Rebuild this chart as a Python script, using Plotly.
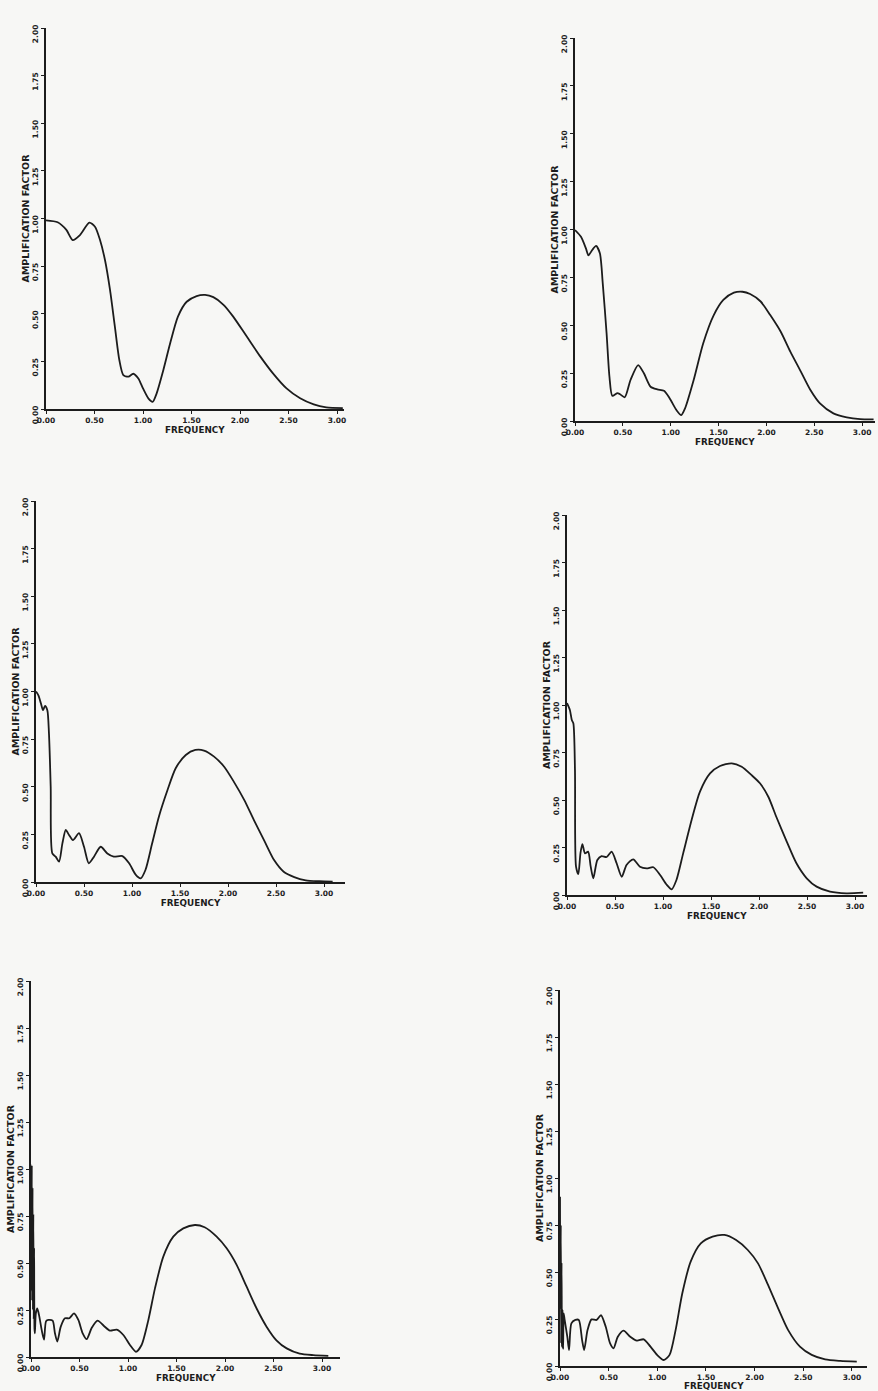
import plotly.graph_objects as go

W, H = 878, 1391

# ---------------- data ----------------
x_ticks = [0.0, 0.5, 1.0, 1.5, 2.0, 2.5, 3.0]
x_ticktext = ["0.00", "0.50", "1.00", "1.50", "2.00", "2.50", "3.00"]
y_ticks = [0.0, 0.25, 0.5, 0.75, 1.0, 1.25, 1.5, 1.75, 2.0]
y_ticktext = ["0.00", "0.25", "0.50", "0.75", "1.00", "1.25", "1.50", "1.75", "2.00"]

freq_1 = [0.00, 0.12, 0.21, 0.275, 0.35, 0.447, 0.505, 0.557, 0.608, 0.66, 0.71, 0.756,
          0.797, 0.85, 0.90, 0.952, 1.00, 1.055, 1.10, 1.14, 1.21, 1.28, 1.36, 1.45, 1.553,
          1.64, 1.725, 1.83, 1.93, 2.07, 2.21, 2.34, 2.48, 2.62, 2.76, 2.89, 3.06]
amp_1 = [0.99, 0.98, 0.94, 0.887, 0.913, 0.978, 0.957, 0.887, 0.782, 0.625, 0.432, 0.257,
         0.178, 0.17, 0.185, 0.16, 0.108, 0.056, 0.038, 0.081, 0.205, 0.345, 0.485, 0.563, 0.593,
         0.599, 0.587, 0.547, 0.485, 0.38, 0.275, 0.187, 0.108, 0.056, 0.024, 0.009, 0.005]

freq_2 = [0.00, 0.0625, 0.115, 0.14, 0.18, 0.22, 0.26, 0.29, 0.33, 0.36, 0.39, 0.44, 0.47,
          0.52, 0.58, 0.66, 0.72, 0.79, 0.86, 0.93, 0.99, 1.06, 1.11, 1.15, 1.24, 1.34, 1.45,
          1.55, 1.66, 1.75, 1.83, 1.94, 2.04, 2.15, 2.25, 2.36, 2.46, 2.56, 2.70, 2.84, 2.98, 3.12]
amp_2 = [0.997, 0.962, 0.90, 0.865, 0.893, 0.914, 0.876, 0.719, 0.458, 0.231, 0.131, 0.145, 0.14,
         0.124, 0.214, 0.292, 0.249, 0.179, 0.165, 0.158, 0.118, 0.057, 0.031, 0.066, 0.214, 0.406, 0.553,
         0.632, 0.67, 0.675, 0.663, 0.624, 0.553, 0.466, 0.362, 0.258, 0.162, 0.092, 0.04, 0.019, 0.01, 0.009]

freq_3 = [0.00, 0.025, 0.05, 0.073, 0.094, 0.118, 0.135, 0.153, 0.17, 0.205, 0.24, 0.275, 0.31,
          0.344, 0.385, 0.448, 0.50, 0.55, 0.604, 0.674, 0.743, 0.81, 0.90, 0.97, 1.04, 1.09, 1.14,
          1.21, 1.28, 1.37, 1.455, 1.56, 1.66, 1.75, 1.855, 1.96, 2.06, 2.17, 2.27, 2.375, 2.48,
          2.58, 2.69, 2.81, 2.95, 3.09]
amp_3 = [1.00, 0.98, 0.94, 0.902, 0.924, 0.902, 0.78, 0.50, 0.15, 0.133, 0.107, 0.203, 0.273,
         0.247, 0.22, 0.256, 0.185, 0.098, 0.133, 0.185, 0.15, 0.133, 0.136, 0.098, 0.037, 0.019, 0.063,
         0.203, 0.343, 0.483, 0.597, 0.667, 0.693, 0.69, 0.658, 0.605, 0.527, 0.43, 0.325, 0.22, 0.115,
         0.054, 0.026, 0.009, 0.004, 0.002]

freq_4 = [0.00, 0.03, 0.05, 0.066, 0.083, 0.094, 0.118, 0.14, 0.16, 0.188, 0.22, 0.247, 0.274,
          0.316, 0.36, 0.413, 0.465, 0.517, 0.57, 0.62, 0.69, 0.76, 0.83, 0.90, 0.97, 1.04, 1.09,
          1.14, 1.21, 1.298, 1.385, 1.49, 1.594, 1.715, 1.82, 1.92, 2.01, 2.097, 2.18, 2.29, 2.39,
          2.497, 2.60, 2.74, 2.91, 3.085]
amp_4 = [1.01, 0.974, 0.921, 0.904, 0.658, 0.149, 0.11, 0.219, 0.268, 0.219, 0.228, 0.149, 0.088,
         0.184, 0.205, 0.20, 0.228, 0.167, 0.096, 0.158, 0.188, 0.149, 0.14, 0.146, 0.105, 0.053, 0.03,
         0.079, 0.219, 0.395, 0.544, 0.64, 0.679, 0.693, 0.675, 0.632, 0.588, 0.517, 0.412, 0.28, 0.167,
         0.088, 0.044, 0.018, 0.009, 0.012]

freq_5 = [0.000, 0.004, 0.008, 0.012, 0.016, 0.020, 0.024, 0.028, 0.032, 0.036, 0.040, 0.050,
          0.065, 0.086, 0.11, 0.134, 0.155, 0.18, 0.223, 0.247, 0.271, 0.306, 0.35, 0.395, 0.443,
          0.488, 0.533, 0.574, 0.625, 0.687, 0.752, 0.814, 0.883, 0.952, 1.02, 1.082, 1.14, 1.21,
          1.278, 1.364, 1.467, 1.57, 1.69, 1.79, 1.914, 2.017, 2.12, 2.223, 2.326, 2.43, 2.53,
          2.636, 2.77, 2.91, 3.065]
amp_5 = [1.00, 0.35, 1.02, 0.30, 0.90, 0.25, 0.76, 0.20, 0.58, 0.15, 0.126, 0.232,
         0.258, 0.215, 0.144, 0.092, 0.19, 0.197, 0.193, 0.126, 0.082, 0.16, 0.206, 0.206, 0.232,
         0.197, 0.126, 0.095, 0.154, 0.193, 0.165, 0.14, 0.145, 0.117, 0.064, 0.028, 0.064, 0.197,
         0.365, 0.534, 0.64, 0.684, 0.702, 0.69, 0.64, 0.578, 0.49, 0.374, 0.258, 0.16, 0.089,
         0.046, 0.018, 0.01, 0.006]

freq_6 = [0.000, 0.004, 0.008, 0.012, 0.016, 0.020, 0.026, 0.032, 0.038, 0.048, 0.075, 0.093,
          0.117, 0.158, 0.193, 0.227, 0.248, 0.283, 0.324, 0.376, 0.421, 0.47, 0.515, 0.55,
          0.594, 0.653, 0.722, 0.79, 0.86, 0.93, 0.998, 1.067, 1.126, 1.188, 1.257, 1.343, 1.447,
          1.568, 1.689, 1.81, 1.93, 2.035, 2.138, 2.242, 2.345, 2.466, 2.587, 2.725, 2.88, 3.05]
amp_6 = [0.90, 0.30, 0.75, 0.12, 0.55, 0.10, 0.30, 0.09, 0.28, 0.245, 0.156, 0.085,
         0.227, 0.245, 0.245, 0.138, 0.085, 0.191, 0.248, 0.245, 0.27, 0.209, 0.12, 0.094,
         0.156, 0.188, 0.156, 0.135, 0.142, 0.103, 0.059, 0.032, 0.059, 0.191, 0.387, 0.555, 0.652,
         0.688, 0.697, 0.67, 0.617, 0.546, 0.431, 0.307, 0.191, 0.103, 0.059, 0.035, 0.027, 0.023]

panels_freq = [freq_1, freq_2, freq_3, freq_4, freq_5, freq_6]
panels_amp = [amp_1, amp_2, amp_3, amp_4, amp_5, amp_6]

# ---------------- layout (pixel geometry of each panel) ----------------
# (x of origin, px per unit x, x axis end, y of origin, px per unit y)
geom = [
    (46, 97.0, 3.07, 409, 190.5),
    (575, 95.7, 3.13, 421, 191.5),
    (36, 96.0, 3.22, 882, 190.5),
    (567, 96.0, 3.12, 895, 190.0),
    (31, 97.0, 3.19, 1357, 188.0),
    (560, 97.3, 3.16, 1366, 188.0),
]

INK = "#1c1c1c"
BG = "#f7f7f5"
FONT = "DejaVu Sans"

fig = go.Figure()
layout = dict(
    width=W, height=H, autosize=False,
    margin=dict(l=0, r=0, t=0, b=0, autoexpand=False),
    paper_bgcolor=BG, plot_bgcolor=BG,
    showlegend=False,
    font=dict(family=FONT, color=INK),
)

for i, (fx, fy) in enumerate(zip(panels_freq, panels_amp)):
    n = "" if i == 0 else str(i + 1)
    x0, ux, xmax, y0, uy = geom[i]
    fig.add_trace(go.Scatter(
        x=fx, y=fy, mode="lines",
        line=dict(color=INK, width=1.8, shape="spline", smoothing=0.7),
        xaxis="x" + n, yaxis="y" + n, hoverinfo="skip",
    ))
    layout["xaxis" + n] = dict(
        domain=[x0 / W, (x0 + xmax * ux) / W],
        range=[0, xmax], anchor="y" + n, automargin=False,
        showline=True, linecolor=INK, linewidth=1.6,
        ticks="outside", ticklen=3, tickwidth=1.2, tickcolor=INK,
        tickvals=x_ticks, ticktext=x_ticktext,
        tickfont=dict(family=FONT, size=7.5, color=INK, weight="bold"),
        showgrid=False, zeroline=False,
        title=dict(text="FREQUENCY", standoff=0,
                   font=dict(family=FONT, size=8.8, color=INK, weight="bold")),
    )
    layout["yaxis" + n] = dict(
        domain=[1 - y0 / H, 1 - (y0 - 2.0 * uy) / H],
        range=[0, 2.0], anchor="x" + n, automargin=False,
        showline=True, linecolor=INK, linewidth=1.6,
        ticks="outside", ticklen=3, tickwidth=1.2, tickcolor=INK,
        tickvals=y_ticks, ticktext=y_ticktext, tickangle=-90,
        ticklabelshift=7,
        tickfont=dict(family=FONT, size=7.5, color=INK, weight="bold"),
        showgrid=False, zeroline=False,
        title=dict(text="AMPLIFICATION FACTOR", standoff=0,
                   font=dict(family=FONT, size=9.5, color=INK, weight="bold")),
    )

fig.update_layout(**layout)
fig.write_html(
    "out.html",
    config={"displayModeBar": False},
    post_script="document.body.style.margin='0';document.body.style.overflow='hidden';",
)
